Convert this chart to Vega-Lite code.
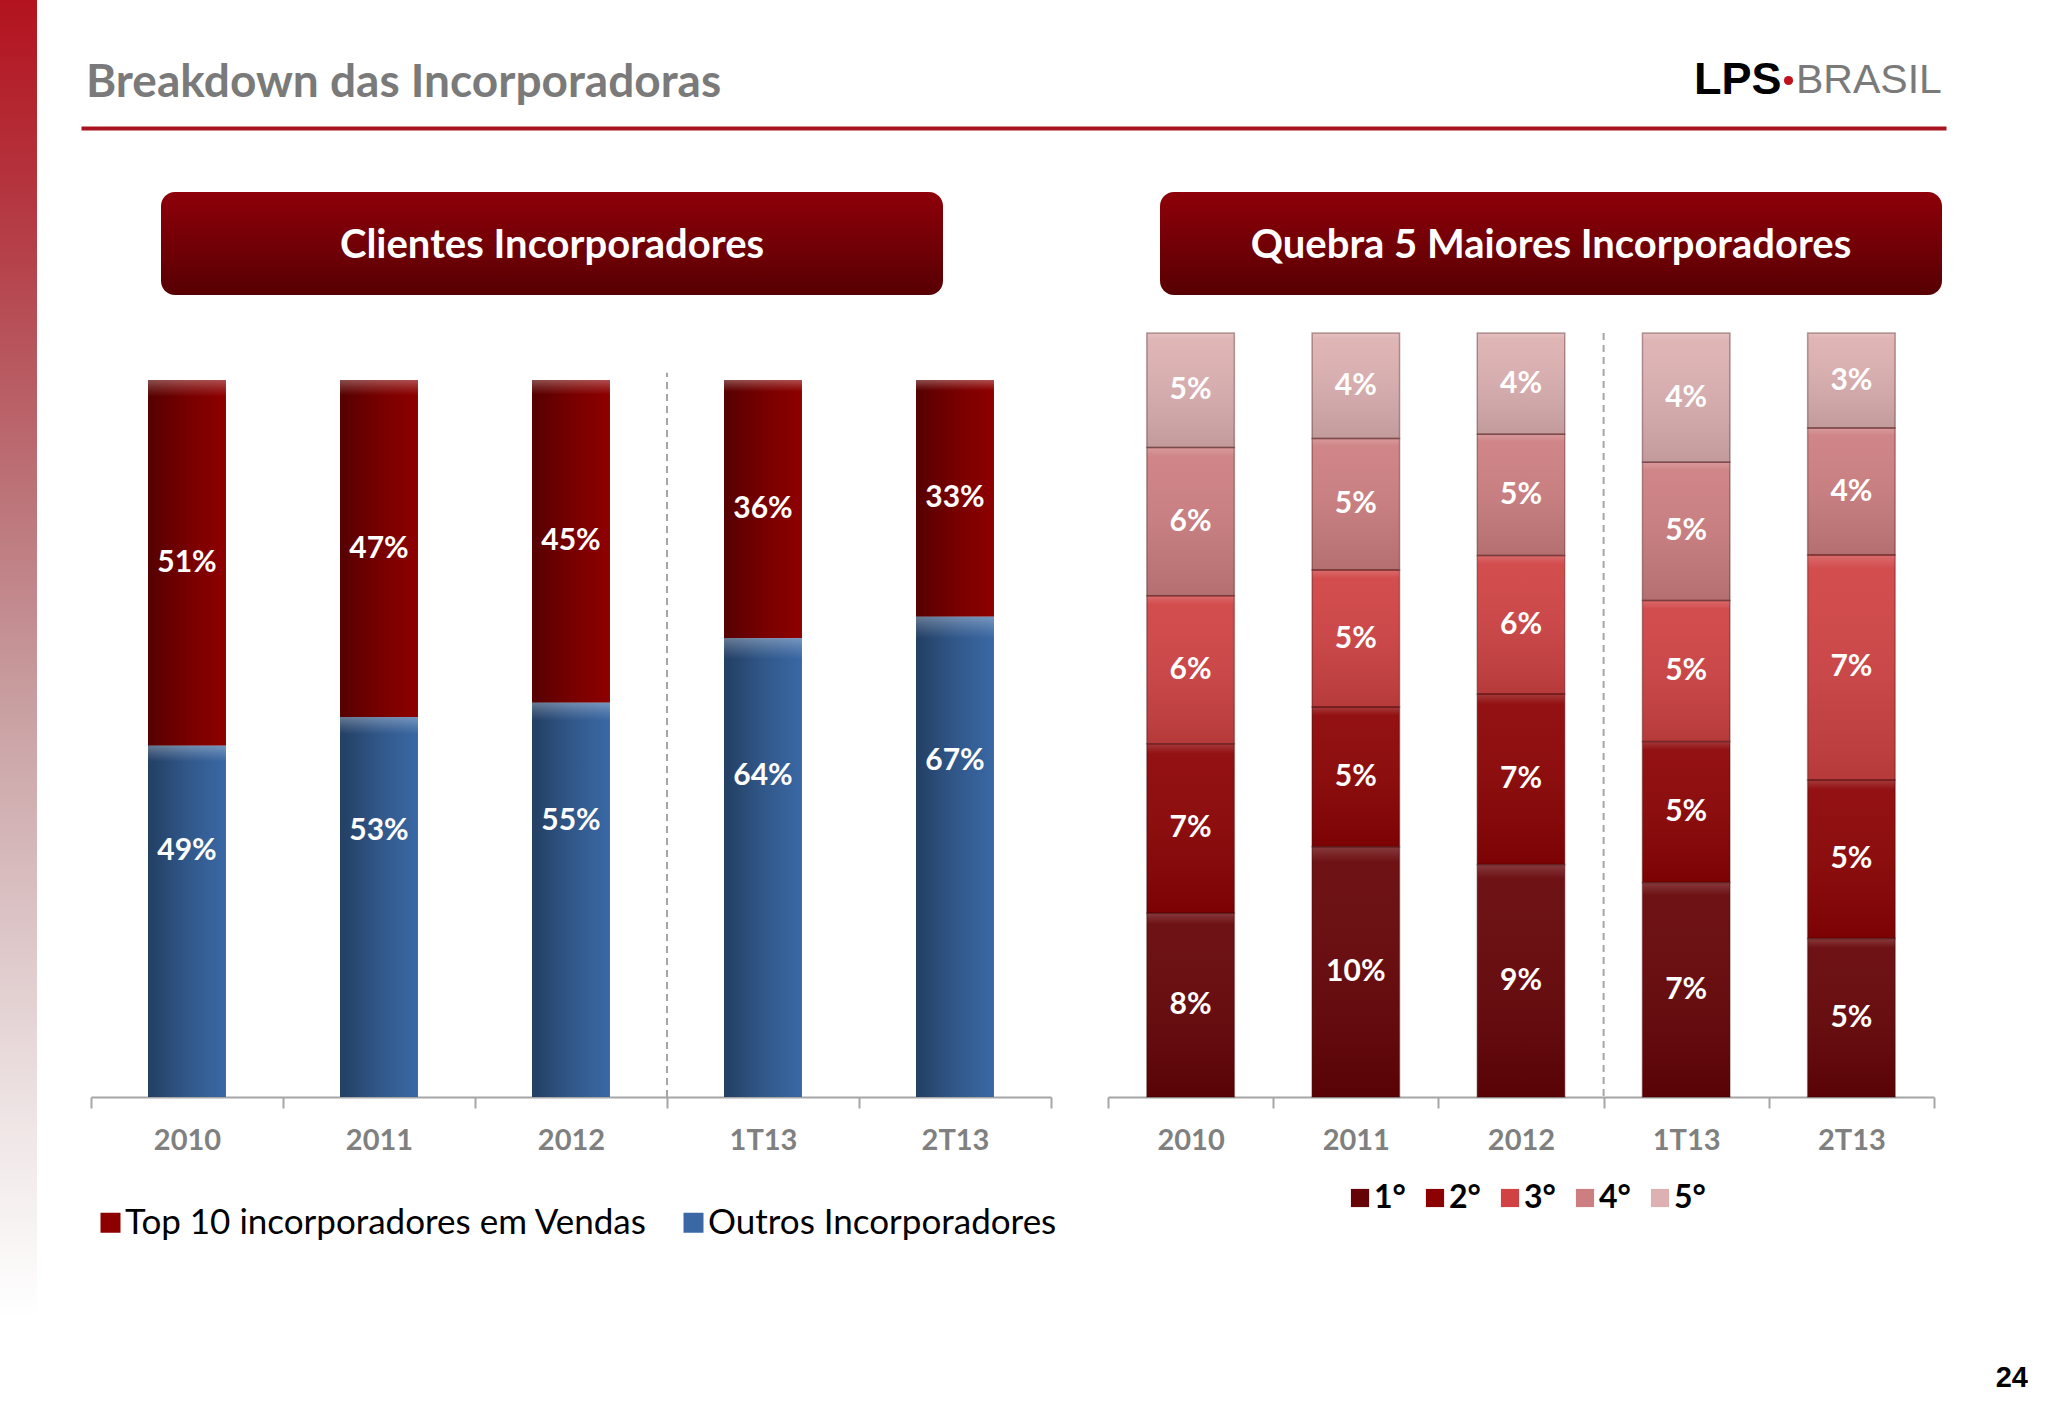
{
  "$schema": "https://vega.github.io/schema/vega-lite/v6.json",
  "padding": 0,
  "autosize": {"type": "pad"},
  "background": "white",
  "config": {"view": {"stroke": null}},
  "datasets": {
    "clientes": [
      {"periodo": "2010", "serie": "Top 10 incorporadores em Vendas", "valor": 51, "rotulo": "51%"},
      {"periodo": "2010", "serie": "Outros Incorporadores", "valor": 49, "rotulo": "49%"},
      {"periodo": "2011", "serie": "Top 10 incorporadores em Vendas", "valor": 47, "rotulo": "47%"},
      {"periodo": "2011", "serie": "Outros Incorporadores", "valor": 53, "rotulo": "53%"},
      {"periodo": "2012", "serie": "Top 10 incorporadores em Vendas", "valor": 45, "rotulo": "45%"},
      {"periodo": "2012", "serie": "Outros Incorporadores", "valor": 55, "rotulo": "55%"},
      {"periodo": "1T13", "serie": "Top 10 incorporadores em Vendas", "valor": 36, "rotulo": "36%"},
      {"periodo": "1T13", "serie": "Outros Incorporadores", "valor": 64, "rotulo": "64%"},
      {"periodo": "2T13", "serie": "Top 10 incorporadores em Vendas", "valor": 33, "rotulo": "33%"},
      {"periodo": "2T13", "serie": "Outros Incorporadores", "valor": 67, "rotulo": "67%"}
    ],
    "maiores": [
      {"periodo": "2010", "posicao": "1°", "participacao": 7.7, "rotulo": "8%"},
      {"periodo": "2010", "posicao": "2°", "participacao": 7.1, "rotulo": "7%"},
      {"periodo": "2010", "posicao": "3°", "participacao": 6.2, "rotulo": "6%"},
      {"periodo": "2010", "posicao": "4°", "participacao": 6.2, "rotulo": "6%"},
      {"periodo": "2010", "posicao": "5°", "participacao": 4.8, "rotulo": "5%"},
      {"periodo": "2011", "posicao": "1°", "participacao": 9.5, "rotulo": "10%"},
      {"periodo": "2011", "posicao": "2°", "participacao": 5.3, "rotulo": "5%"},
      {"periodo": "2011", "posicao": "3°", "participacao": 5.2, "rotulo": "5%"},
      {"periodo": "2011", "posicao": "4°", "participacao": 5.0, "rotulo": "5%"},
      {"periodo": "2011", "posicao": "5°", "participacao": 4.0, "rotulo": "4%"},
      {"periodo": "2012", "posicao": "1°", "participacao": 9.4, "rotulo": "9%"},
      {"periodo": "2012", "posicao": "2°", "participacao": 6.9, "rotulo": "7%"},
      {"periodo": "2012", "posicao": "3°", "participacao": 5.6, "rotulo": "6%"},
      {"periodo": "2012", "posicao": "4°", "participacao": 4.9, "rotulo": "5%"},
      {"periodo": "2012", "posicao": "5°", "participacao": 4.1, "rotulo": "4%"},
      {"periodo": "1T13", "posicao": "1°", "participacao": 7.3, "rotulo": "7%"},
      {"periodo": "1T13", "posicao": "2°", "participacao": 4.8, "rotulo": "5%"},
      {"periodo": "1T13", "posicao": "3°", "participacao": 4.8, "rotulo": "5%"},
      {"periodo": "1T13", "posicao": "4°", "participacao": 4.7, "rotulo": "5%"},
      {"periodo": "1T13", "posicao": "5°", "participacao": 4.4, "rotulo": "4%"},
      {"periodo": "2T13", "posicao": "1°", "participacao": 5.0, "rotulo": "5%"},
      {"periodo": "2T13", "posicao": "2°", "participacao": 5.0, "rotulo": "5%"},
      {"periodo": "2T13", "posicao": "3°", "participacao": 7.1, "rotulo": "7%"},
      {"periodo": "2T13", "posicao": "4°", "participacao": 4.0, "rotulo": "4%"},
      {"periodo": "2T13", "posicao": "5°", "participacao": 3.0, "rotulo": "3%"}
    ]
  },
  "bounds": "flush",
  "spacing": 44,
  "resolve": {"scale": {"x": "independent", "y": "independent", "color": "independent"}, "legend": {"color": "independent"}},
  "hconcat": [
    {
      "width": 37,
      "height": 1418,
      "data": {"values": [{}]},
      "mark": {
        "type": "rect",
        "color": {
          "gradient": "linear", "x1": 0, "y1": 0, "x2": 0, "y2": 1,
          "stops": [
            {"offset": 0, "color": "#B3131E"},
            {"offset": 0.18, "color": "#B5414A"},
            {"offset": 0.35, "color": "#BC7479"},
            {"offset": 0.5, "color": "#C9A0A2"},
            {"offset": 0.65, "color": "#DCC4C6"},
            {"offset": 0.8, "color": "#F0E7E7"},
            {"offset": 0.93, "color": "#FFFFFF"},
            {"offset": 1, "color": "#FFFFFF"}
          ]
        }
      }
    },
    {
      "bounds": "flush",
      "spacing": 64,
      "resolve": {"scale": {"x": "independent", "y": "independent", "color": "independent"}, "legend": {"color": "independent"}},
      "vconcat": [
        {
          "width": 1865,
          "height": 128,
          "encoding": {
            "x": {
              "field": "parte", "type": "nominal", "sort": null,
              "scale": {"type": "point", "domain": ["Breakdown das Incorporadoras", "BRASIL"], "padding": 0},
              "axis": {"title": null, "labels": false, "ticks": false, "domainColor": "#A8141F", "domainWidth": 4}
            }
          },
          "layer": [
            {
              "data": {"values": [{"parte": "Breakdown das Incorporadoras"}]},
              "mark": {"type": "text", "align": "left", "baseline": "alphabetic", "dx": 5, "dy": 33, "font": "Lato", "fontSize": 46, "fontWeight": "bold", "color": "#7A7A7A"},
              "encoding": {"text": {"field": "parte"}}
            },
            {
              "data": {"values": [{"parte": "BRASIL"}]},
              "mark": {"type": "point", "filled": true, "size": 0, "opacity": 0},
              "encoding": {
                "color": {
                  "field": "parte", "type": "nominal",
                  "scale": {"domain": ["BRASIL"], "range": ["#C0121C"]},
                  "legend": {
                    "orient": "none", "legendX": 1613, "legendY": 60,
                    "title": "LPS", "titleOrient": "left", "titleFont": "Liberation Sans",
                    "titleFontSize": 45, "titleFontWeight": "bold", "titleColor": "#000000",
                    "titlePadding": -14,
                    "symbolType": "circle", "symbolSize": 85, "symbolOpacity": 1, "symbolStrokeWidth": 0,
                    "labelFont": "Liberation Sans", "labelFontSize": 41, "labelColor": "#7A7A7A",
                    "labelOffset": -13, "labelLimit": 0
                  }
                }
              }
            }
          ]
        },
        {
          "bounds": "full",
          "spacing": 37,
          "resolve": {"scale": {"x": "independent", "y": "independent", "color": "independent"}, "legend": {"color": "independent"}},
          "vconcat": [
            {
              "bounds": "flush",
              "spacing": 10,
              "resolve": {"scale": {"x": "independent", "y": "independent", "color": "independent"}},
              "hconcat": [
                {"width": 70, "height": 103, "data": {"values": [{}]}, "mark": {"type": "rect", "opacity": 0}},
                {
                  "width": 782, "height": 103,
                  "data": {"values": [{"titulo": "Clientes Incorporadores"}]},
                  "layer": [
                    {"mark": {"type": "rect", "cornerRadius": 14, "color": {"gradient": "linear", "x1": 0, "y1": 0, "x2": 0, "y2": 1, "stops": [{"offset": 0, "color": "#8E0009"}, {"offset": 1, "color": "#570003"}]}}},
                    {"mark": {"type": "text", "color": "white", "font": "Lato", "fontSize": 40, "fontWeight": "bold", "dy": 2}, "encoding": {"text": {"field": "titulo"}}}
                  ]
                },
                {"width": 197, "height": 103, "data": {"values": [{}]}, "mark": {"type": "rect", "opacity": 0}},
                {
                  "width": 782, "height": 103,
                  "data": {"values": [{"titulo": "Quebra 5 Maiores Incorporadores"}]},
                  "layer": [
                    {"mark": {"type": "rect", "cornerRadius": 14, "color": {"gradient": "linear", "x1": 0, "y1": 0, "x2": 0, "y2": 1, "stops": [{"offset": 0, "color": "#8E0009"}, {"offset": 1, "color": "#570003"}]}}},
                    {"mark": {"type": "text", "color": "white", "font": "Lato", "fontSize": 40, "fontWeight": "bold", "dy": 2}, "encoding": {"text": {"field": "titulo"}}}
                  ]
                }
              ]
            },
            {
              "bounds": "flush",
              "spacing": 9,
              "resolve": {"scale": {"x": "independent", "y": "independent", "color": "independent"}, "legend": {"color": "independent"}},
              "hconcat": [
                {"width": 1, "height": 764, "data": {"values": [{}]}, "mark": {"type": "rect", "opacity": 0}},
                {
                  "bounds": "flush",
                  "spacing": 57,
                  "resolve": {"scale": {"x": "independent", "y": "independent", "color": "independent"}, "legend": {"color": "independent"}},
                  "hconcat": [
                    {
                      "width": 960,
                      "height": 764,
                      "data": {"name": "clientes"},
                      "encoding": {
                        "x": {
                          "field": "periodo", "type": "nominal", "sort": null,
                          "scale": {"domain": ["2010", "2011", "2012", "1T13", "2T13"], "paddingInner": 0, "paddingOuter": 0},
                          "axis": {"title": null, "labelAngle": 0, "labelFont": "Lato", "labelFontSize": 29, "labelFontWeight": "bold", "labelColor": "#808080", "labelPadding": 18, "domainColor": "#A6A6A6", "domainWidth": 2, "tickColor": "#A6A6A6", "tickWidth": 2, "tickSize": 11, "tickBand": "extent"}
                        }
                      },
                      "layer": [
                        {
                          "mark": {"type": "bar", "width": {"band": 0.406}},
                          "encoding": {
                            "y": {"field": "valor", "type": "quantitative", "stack": "zero", "scale": {"domain": [0, 106.56], "nice": false, "zero": true}, "axis": null},
                            "color": {
                              "field": "serie", "type": "nominal",
                              "scale": {"domain": ["Top 10 incorporadores em Vendas", "Outros Incorporadores"], "range": ["#8E0000", "#3A68A4"]},
                              "legend": {"orient": "none", "legendX": 2, "legendY": 872, "direction": "horizontal", "title": null, "symbolType": "square", "symbolSize": 400, "symbolStrokeWidth": 0, "labelFont": "Lato", "labelFontSize": 35, "labelColor": "#000000", "labelOffset": -3, "labelLimit": 0, "columnPadding": 28}
                            },
                            "order": {"field": "serie", "sort": "ascending"}
                          }
                        },
                        {
                          "mark": {"type": "bar", "width": {"band": 0.406}, "color": {"gradient": "linear", "x1": 0, "y1": 0, "x2": 1, "y2": 0, "stops": [{"offset": 0, "color": "rgba(0,0,0,0.4)"}, {"offset": 0.5, "color": "rgba(0,0,0,0.16)"}, {"offset": 1, "color": "rgba(0,0,0,0)"}]}},
                          "encoding": {
                            "y": {"field": "valor", "type": "quantitative", "stack": "zero"},
                            "detail": {"field": "serie"},
                            "order": {"field": "serie", "sort": "ascending"}
                          }
                        },
                        {
                          "mark": {"type": "bar", "width": {"band": 0.406}, "color": {"gradient": "linear", "x1": 0, "y1": 0, "x2": 0, "y2": 1, "stops": [{"offset": 0, "color": "rgba(255,255,255,0.3)"}, {"offset": 0.025, "color": "rgba(255,255,255,0.12)"}, {"offset": 0.045, "color": "rgba(255,255,255,0)"}, {"offset": 1, "color": "rgba(255,255,255,0)"}]}},
                          "encoding": {
                            "y": {"field": "valor", "type": "quantitative", "stack": "zero"},
                            "detail": {"field": "serie"},
                            "order": {"field": "serie", "sort": "ascending"}
                          }
                        },
                        {
                          "mark": {"type": "text", "color": "white", "font": "Lato", "fontSize": 30, "fontWeight": "bold"},
                          "encoding": {
                            "y": {"field": "valor", "type": "quantitative", "stack": "zero", "bandPosition": 0.5},
                            "detail": {"field": "serie"},
                            "order": {"field": "serie", "sort": "ascending"},
                            "text": {"condition": {"test": "datum.serie === 'Outros Incorporadores'", "value": ""}, "field": "rotulo"}
                          }
                        },
                        {
                          "transform": [{"filter": "datum.serie === 'Outros Incorporadores'"}],
                          "mark": {"type": "text", "color": "white", "font": "Lato", "fontSize": 30, "fontWeight": "bold"},
                          "encoding": {
                            "y": {"field": "valor", "type": "quantitative", "stack": "zero", "bandPosition": 0.7},
                            "detail": {"field": "serie"},
                            "text": {"field": "rotulo"}
                          }
                        },
                        {
                          "data": {"values": [{"periodo": "1T13"}]},
                          "mark": {"type": "rule", "color": "#A6A6A6", "strokeWidth": 2, "strokeDash": [7, 5]},
                          "encoding": {
                            "x": {"field": "periodo", "type": "nominal", "bandPosition": 0},
                            "y": {"datum": 0},
                            "y2": {"datum": 101}
                          }
                        }
                      ]
                    },
                    {
                      "width": 826,
                      "height": 764,
                      "title": {"text": "24", "orient": "bottom", "anchor": "end", "frame": "group", "offset": 150, "dx": 94, "font": "Liberation Sans", "fontSize": 29, "fontWeight": "bold", "color": "#000000"},
                      "data": {"name": "maiores"},
                      "encoding": {
                        "x": {
                          "field": "periodo", "type": "nominal", "sort": null,
                          "scale": {"domain": ["2010", "2011", "2012", "1T13", "2T13"], "paddingInner": 0, "paddingOuter": 0},
                          "axis": {"title": null, "labelAngle": 0, "labelFont": "Lato", "labelFontSize": 29, "labelFontWeight": "bold", "labelColor": "#808080", "labelPadding": 18, "domainColor": "#A6A6A6", "domainWidth": 2, "tickColor": "#A6A6A6", "tickWidth": 2, "tickSize": 11, "tickBand": "extent"}
                        }
                      },
                      "layer": [
                        {
                          "mark": {"type": "bar", "width": {"band": 0.53}},
                          "encoding": {
                            "y": {"field": "participacao", "type": "quantitative", "stack": "normalize", "scale": {"domain": [0, 1], "nice": false}, "axis": null},
                            "color": {
                              "field": "posicao", "type": "nominal",
                              "scale": {"domain": ["1°", "2°", "3°", "4°", "5°"], "range": ["#650306", "#8C0203", "#D04243", "#CD7E80", "#DDB0B1"]},
                              "legend": {"orient": "none", "legendX": 236, "legendY": 849, "direction": "horizontal", "title": null, "symbolType": "square", "symbolSize": 330, "symbolStrokeWidth": 0, "labelFont": "Lato", "labelFontSize": 32, "labelFontWeight": "bold", "labelColor": "#000000", "labelOffset": -2, "columnPadding": 13}
                            },
                            "order": {"field": "posicao", "sort": "ascending"}
                          }
                        },
                        {
                          "mark": {"type": "bar", "width": {"band": 0.53}, "stroke": "#3A0000", "strokeOpacity": 0.35, "strokeWidth": 1.5, "color": {"gradient": "linear", "x1": 0, "y1": 0, "x2": 0, "y2": 1, "stops": [{"offset": 0, "color": "rgba(255,255,255,0.22)"}, {"offset": 0.06, "color": "rgba(255,255,255,0.06)"}, {"offset": 1, "color": "rgba(0,0,0,0.12)"}]}},
                          "encoding": {
                            "y": {"field": "participacao", "type": "quantitative", "stack": "normalize"},
                            "detail": {"field": "posicao"},
                            "order": {"field": "posicao", "sort": "ascending"}
                          }
                        },
                        {
                          "mark": {"type": "text", "color": "white", "font": "Lato", "fontSize": 30, "fontWeight": "bold"},
                          "encoding": {
                            "y": {"field": "participacao", "type": "quantitative", "stack": "normalize", "bandPosition": 0.5},
                            "detail": {"field": "posicao"},
                            "order": {"field": "posicao", "sort": "ascending"},
                            "text": {"field": "rotulo"}
                          }
                        },
                        {
                          "data": {"values": [{"periodo": "1T13"}]},
                          "mark": {"type": "rule", "color": "#A6A6A6", "strokeWidth": 2, "strokeDash": [7, 5]},
                          "encoding": {
                            "x": {"field": "periodo", "type": "nominal", "bandPosition": 0}
                          }
                        }
                      ]
                    }
                  ]
                }
              ]
            }
          ]
        }
      ]
    }
  ]
}
